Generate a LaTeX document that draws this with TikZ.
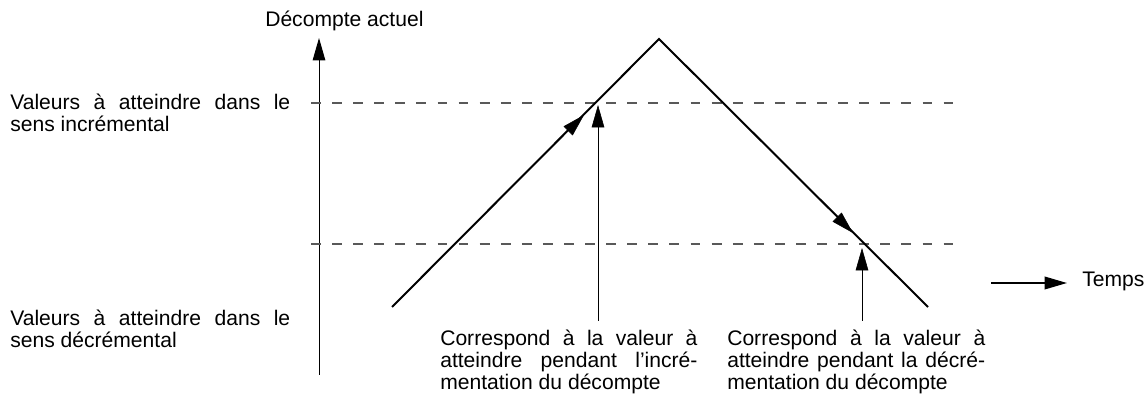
\documentclass[tikz,border=0pt]{standalone}
\usepackage{fontspec}
\setmainfont{Liberation Sans}
\usetikzlibrary{arrows.meta}

\tikzset{
  texte/.style={inner sep=0pt, font=\fontsize{15}{15.4}\selectfont},
  bloc/.style={texte, anchor=north west, align=justify},
  courbe/.style={line width=1.4pt},
  niveau/.style={black!65, line width=0.8pt, dash pattern=on 7pt off 8pt},
  fleche/.style={-{Triangle[length=16pt,width=9pt]}},
}

\begin{document}
\begin{tikzpicture}
    \useasboundingbox (0,0) rectangle (28.65,9.9);

    % axe vertical
    \coordinate (bas) at (7.975,0.525);
    \coordinate (haut) at (7.975,8.95);
    \draw[fleche, line width=0.7pt] (bas) -- (haut);
    \node[texte, anchor=base west] (decompte) at (6.625,9.225) {Décompte actuel};

    % valeurs à atteindre
    \draw[niveau] (7.775,7.325) -- (23.875,7.325);
    \draw[niveau] (7.775,3.8) -- (23.875,3.8);
    \node[bloc, text width=7cm] (incr) at (0.25,7.55)
        {Valeurs à atteindre dans le\linebreak sens incrémental};
    \node[bloc, text width=7cm] (decr) at (0.25,2.15)
        {Valeurs à atteindre dans le\linebreak sens décrémental};

    % décompte
    \coordinate (depart) at (9.8,2.225);
    \coordinate (sommet) at (16.475,8.925);
    \coordinate (fin) at (23.2,2.225);
    \draw[courbe] (depart) -- (sommet) -- (fin);
    \coordinate (montee) at (14.6,7.025);
    \coordinate (descente) at (21.325,4.075);
    \draw[fleche] (depart) -- (montee);
    \draw[fleche] (sommet) -- (descente);

    % correspondances
    \node[bloc, text width=6.43cm] (corrA) at (11.0,1.65)
        {Correspond à la valeur à\linebreak atteindre pendant l’incré-\linebreak mentation du décompte};
    \node[bloc, text width=6.45cm] (corrB) at (18.175,1.65)
        {Correspond à la valeur à\linebreak atteindre pendant la décré-\linebreak mentation du décompte};
    \coordinate (piedA) at (14.95,1.875);
    \coordinate (pointeA) at (14.95,7.275);
    \coordinate (piedB) at (21.55,1.875);
    \coordinate (pointeB) at (21.55,3.7);
    \draw[fleche] (piedA) -- (pointeA);
    \draw[fleche] (piedB) -- (pointeB);

    % temps
    \node[texte, anchor=base west] (temps) at (27.05,2.725) {Temps};
    \coordinate (tdebut) at (24.775,2.825);
    \draw[fleche, line width=1.3pt] (tdebut) -- ([xshift=-0.375cm]tdebut -| temps.west);
\end{tikzpicture}
\end{document}
